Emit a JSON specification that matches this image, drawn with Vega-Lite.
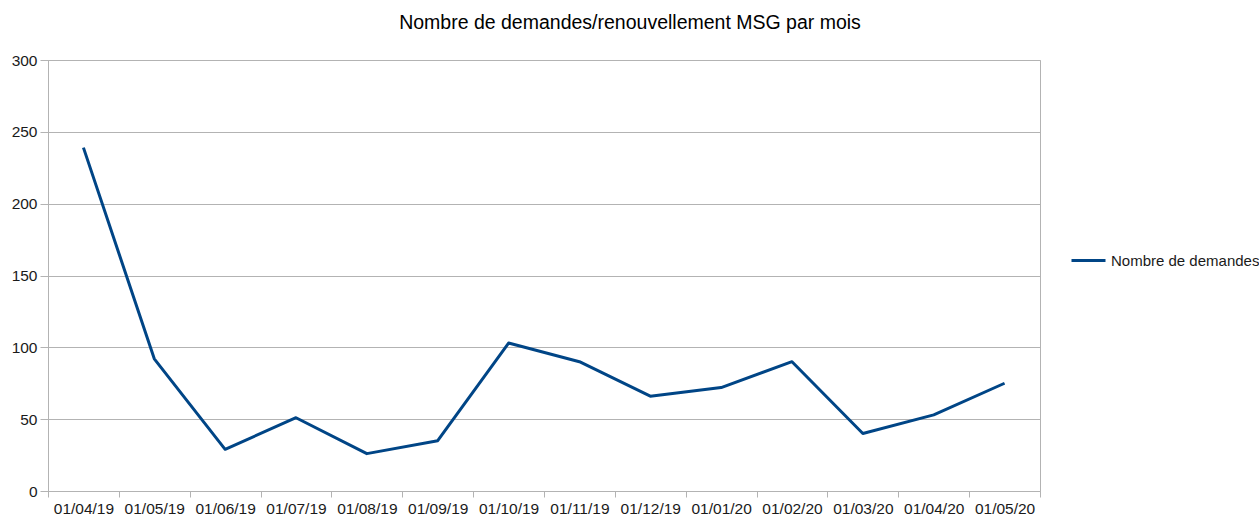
{
  "$schema": "https://vega.github.io/schema/vega-lite/v6.json",
  "autosize": "none",
  "width": 992,
  "height": 431,
  "padding": {"left": 48, "top": 60, "right": 219, "bottom": 28},
  "background": "white",
  "title": {
    "text": "Nombre de demandes/renouvellement MSG par mois",
    "font": "Liberation Sans",
    "fontSize": 19.5,
    "fontWeight": "normal",
    "color": "#000000",
    "anchor": "middle",
    "dx": 86,
    "offset": 20
  },
  "config": {
    "view": {"stroke": "#b3b3b3", "strokeWidth": 1},
    "font": "Liberation Sans"
  },
  "data": {
    "values": [
      {"mois": "01/04/19", "serie": "Nombre de demandes", "valeur": 239},
      {"mois": "01/05/19", "serie": "Nombre de demandes", "valeur": 92},
      {"mois": "01/06/19", "serie": "Nombre de demandes", "valeur": 29},
      {"mois": "01/07/19", "serie": "Nombre de demandes", "valeur": 51},
      {"mois": "01/08/19", "serie": "Nombre de demandes", "valeur": 26},
      {"mois": "01/09/19", "serie": "Nombre de demandes", "valeur": 35},
      {"mois": "01/10/19", "serie": "Nombre de demandes", "valeur": 103},
      {"mois": "01/11/19", "serie": "Nombre de demandes", "valeur": 90},
      {"mois": "01/12/19", "serie": "Nombre de demandes", "valeur": 66},
      {"mois": "01/01/20", "serie": "Nombre de demandes", "valeur": 72},
      {"mois": "01/02/20", "serie": "Nombre de demandes", "valeur": 90},
      {"mois": "01/03/20", "serie": "Nombre de demandes", "valeur": 40},
      {"mois": "01/04/20", "serie": "Nombre de demandes", "valeur": 53},
      {"mois": "01/05/20", "serie": "Nombre de demandes", "valeur": 75}
    ]
  },
  "mark": {"type": "line", "strokeWidth": 3, "strokeJoin": "round"},
  "encoding": {
    "x": {
      "field": "mois",
      "type": "ordinal",
      "sort": null,
      "bandPosition": 0.5,
      "scale": {"type": "band", "paddingInner": 0, "paddingOuter": 0},
      "axis": {
        "title": null,
        "labelAngle": 0,
        "tickBand": "extent",
        "grid": false,
        "domainColor": "#b3b3b3",
        "tickColor": "#b3b3b3",
        "tickSize": 6,
        "labelFont": "Liberation Sans",
        "labelFontSize": 15.5,
        "labelColor": "#1a1a1a",
        "labelPadding": 4
      }
    },
    "y": {
      "field": "valeur",
      "type": "quantitative",
      "scale": {"domain": [0, 300], "nice": false},
      "axis": {
        "title": null,
        "values": [0, 50, 100, 150, 200, 250, 300],
        "gridColor": "#b3b3b3",
        "domainColor": "#b3b3b3",
        "tickColor": "#b3b3b3",
        "tickSize": 8,
        "labelFont": "Liberation Sans",
        "labelFontSize": 15.5,
        "labelColor": "#1a1a1a",
        "labelPadding": 3
      }
    },
    "color": {
      "field": "serie",
      "type": "nominal",
      "scale": {"range": ["#004586"]},
      "legend": {
        "title": null,
        "orient": "none",
        "legendX": 1022,
        "legendY": 182,
        "symbolType": "stroke",
        "symbolSize": 1156,
        "symbolStrokeWidth": 3,
        "labelFont": "Liberation Sans",
        "labelFontSize": 15,
        "labelColor": "#1a1a1a",
        "labelOffset": 4
      }
    }
  }
}
